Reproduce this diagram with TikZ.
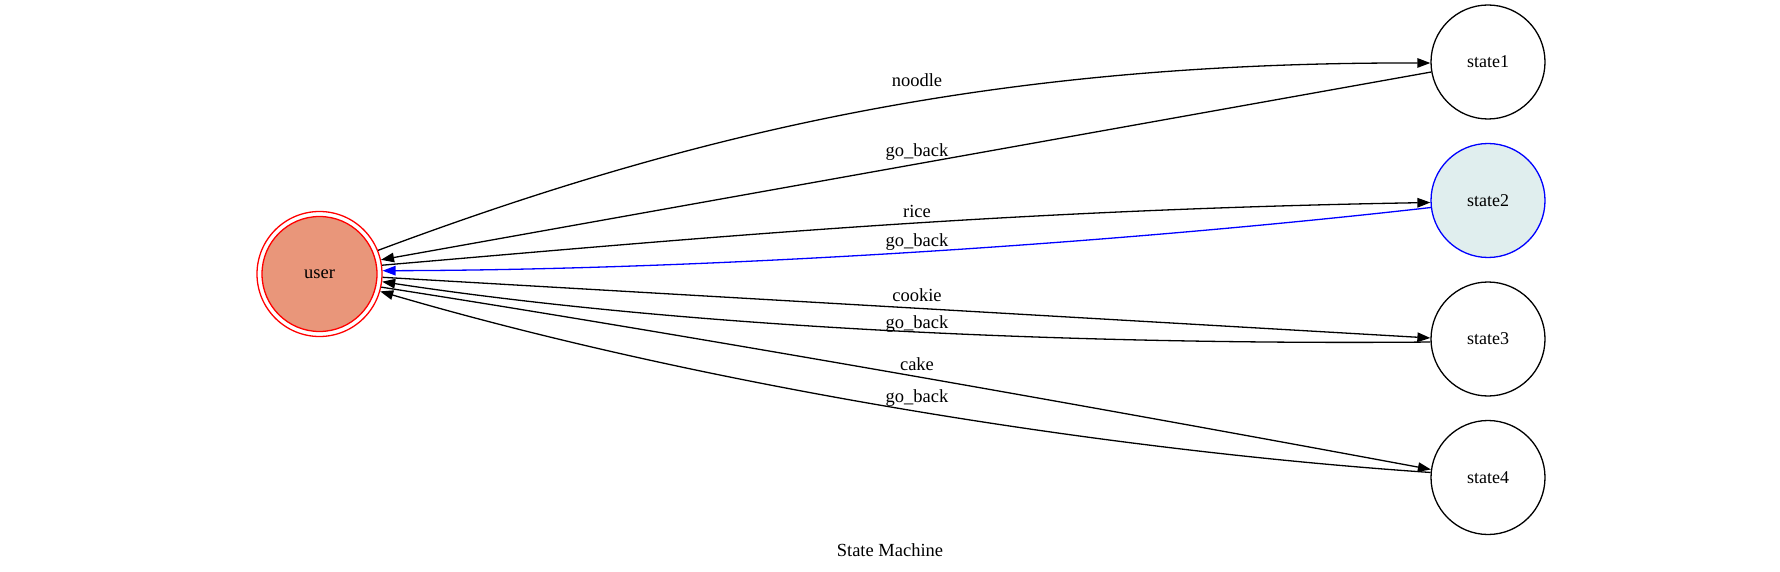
\documentclass[tikz,border=0pt]{standalone}
\usepackage{fontspec}
\setmainfont{Liberation Serif}
\usetikzlibrary{arrows.meta}
\definecolor{usrfill}{HTML}{E9967A}
\definecolor{s2fill}{HTML}{E0EEEE}
\tikzset{
  statec/.style={circle, draw=black, line width=1.3pt, minimum size=114pt, inner sep=0pt, font=\fontsize{18}{20}\selectfont},
  edge/.style={line width=1.3pt, -{Triangle[length=13pt,width=9.5pt]}},
  lbl/.style={anchor=base, inner sep=0pt, font=\fontsize{18.5}{20}\selectfont},
}
\begin{document}
\begin{tikzpicture}[x=1pt, y=-1pt]
\useasboundingbox (0,0) rectangle (1780,572);
% nodes
\node[circle, draw=red, line width=1.3pt, minimum size=125pt, inner sep=0pt] (user) at (319.5,274) {};
\node[circle, draw=red, fill=usrfill, line width=1.3pt, minimum size=115pt, inner sep=0pt, font=\fontsize{18.5}{20}\selectfont] (userin) at (user.center) {user};
\node[statec] (state1) at (1488,62) {state1};
\node[statec, draw=blue, fill=s2fill] (state2) at (1488,200.5) {state2};
\node[statec] (state3) at (1488,339) {state3};
\node[statec] (state4) at (1488,477.5) {state4};
% edges
\draw[edge] (user.22) .. controls (700,130) and (1000,62) .. (state1.181);
\draw[edge] (state1.190) -- (user.13);
\draw[edge] (user.8) .. controls (700,238) and (1000,210) .. (state2.182.5);
\draw[edge, draw=blue, -{Triangle[length=13pt,width=9.5pt,fill=blue]}] (state2.187.5) .. controls (1100,245) and (700,270) .. (user.3);
\draw[edge] (user.-3) -- (state3.179);
\draw[edge] (state3.183) .. controls (1100,345) and (700,330) .. (user.-7.5);
\draw[edge] (user.-12) .. controls (700,337) and (1100,408) .. (state4.172.5);
\draw[edge] (state4.175.5) .. controls (1100,450) and (700,385) .. (user.-16.5);
% labels
\node[lbl] (l1) at (917,86.7) {noodle};
\node[lbl] (l2) at (917,156.7) {go\_back};
\node[lbl] (l3) at (917,218) {rice};
\node[lbl] (l4) at (917,246.7) {go\_back};
\node[lbl] (l5) at (917,301.7) {cookie};
\node[lbl] (l6) at (917,328.3) {go\_back};
\node[lbl] (l7) at (917,370) {cake};
\node[lbl] (l8) at (917,402.7) {go\_back};
\node[lbl] (title) at (890,556) {State Machine};
\end{tikzpicture}
\end{document}
